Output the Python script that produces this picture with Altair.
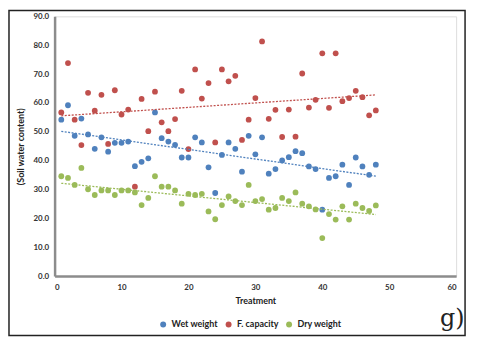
import altair as alt
import pandas as pd

treatment = list(range(1, 49))

wet_weight = [54.2, 59.2, 48.6, 54.6, 49.1, 44.1, 48.1, 43.1, 46.2, 46.2,
              46.6, 38.1, 39.6, 40.8, 56.7, 47.8, 46.6, 45.5, 41.1, 41.1,
              48.1, 46.3, 37.7, 28.8, 42.0, 46.3, 44.1, 36.2, 48.6, 42.2,
              48.1, 35.5, 37.1, 40.1, 41.2, 43.3, 42.6, 38.0, 37.1, 23.0,
              34.0, 34.6, 38.6, 31.6, 41.1, 38.0, 35.1, 38.6]

f_capacity = [56.7, 73.8, 54.2, 45.4, 63.5, 57.3, 62.8, 45.8, 64.4, 56.0,
              57.7, 31.0, 61.4, 50.2, 63.9, 53.3, 50.2, 54.4, 64.2, 44.0,
              71.6, 61.5, 66.9, 46.3, 71.6, 67.5, 69.4, 47.2, 54.2, 61.7,
              81.3, 54.5, 57.6, 48.2, 57.7, 48.3, 70.2, 58.4, 61.1, 77.2,
              58.3, 77.2, 60.6, 61.7, 64.2, 62.0, 55.7, 57.4]

dry_weight = [34.6, 34.0, 31.6, 37.5, 30.1, 28.1, 29.7, 29.7, 28.1, 29.7,
              29.7, 29.0, 24.6, 27.1, 34.6, 31.0, 31.0, 29.7, 25.1, 28.5,
              28.1, 28.5, 22.4, 19.7, 24.6, 27.6, 26.0, 24.6, 31.6, 26.0,
              26.7, 23.0, 23.6, 27.1, 26.0, 29.0, 25.1, 24.2, 23.1, 13.2,
              21.5, 19.6, 24.2, 19.6, 25.1, 23.6, 22.6, 24.5]

series_names = ["Wet weight", "F. capacity", "Dry weight"]
series_colors = ["#4f81bd", "#c0504d", "#9bbb59"]
x_ticks = [0, 10, 20, 30, 40, 50, 60]
y_ticks = [0, 10, 20, 30, 40, 50, 60, 70, 80, 90]

rows = []
for name, vals in zip(series_names, [wet_weight, f_capacity, dry_weight]):
    for t, v in zip(treatment, vals):
        rows.append({"Treatment": t, "value": v, "series": name})
df = pd.DataFrame(rows)

FONT = "Lato"

x_enc = alt.X("Treatment:Q",
              scale=alt.Scale(domain=[0, 60], nice=False),
              axis=alt.Axis(values=x_ticks, title="Treatment",
                            grid=False, ticks=False, labelPadding=7, labelOverlap=False,
                            domainColor="#8c8c8c", domainWidth=2.5,
                            labelFont=FONT, labelFontSize=8, labelFontWeight="bold",
                            labelColor="#333333", titleFont=FONT, titleFontSize=9,
                            titleFontWeight="bold", titleColor="#222222", titlePadding=6))
y_enc = alt.Y("value:Q",
              scale=alt.Scale(domain=[0, 90], nice=False),
              axis=alt.Axis(values=y_ticks, format=".1f", tickCount=10,
                            title="(Soil water content)", grid=False, ticks=False,
                            labelPadding=6, labelOverlap=False, labelBound=False,
                            domainColor="#8c8c8c", domainWidth=2.5,
                            labelFont=FONT, labelFontSize=8, labelFontWeight="bold",
                            labelColor="#333333", titleFont=FONT, titleFontSize=9,
                            titleFontWeight="bold", titleColor="#222222", titlePadding=8))
color_scale = alt.Scale(domain=series_names, range=series_colors)

points = alt.Chart(df).mark_circle(size=34, opacity=1).encode(
    x=x_enc, y=y_enc,
    color=alt.Color("series:N", scale=color_scale, sort=series_names,
                    legend=alt.Legend(title=None, orient="none", direction="horizontal",
                                      legendX=105, legendY=306, symbolType="circle",
                                      symbolSize=36, labelFont=FONT, labelFontSize=9,
                                      labelFontWeight="bold", labelColor="#222222",
                                      columnPadding=6, symbolStrokeWidth=0))
)

trend = alt.Chart(df).transform_regression(
    "Treatment", "value", groupby=["series"]
).mark_line(strokeDash=[2, 1.5], strokeWidth=1.3).encode(
    x=x_enc, y=y_enc,
    color=alt.Color("series:N", scale=color_scale, legend=None)
)

label_df = pd.DataFrame({"txt": ["g)"]})
glabel = alt.Chart(label_df).mark_text(font="DejaVu Serif", fontSize=24, align="center",
                                       baseline="middle", color="#222222").encode(
    x=alt.value(401), y=alt.value(305), text="txt:N")

frame = alt.Chart(label_df).mark_rect(filled=False, stroke="#222222", strokeWidth=1.5).encode(
    x=alt.value(-46), x2=alt.value(414), y=alt.value(-6), y2=alt.value(322))

chart = alt.layer(points, trend, glabel, frame).properties(
    width=405, height=262,
    autosize=alt.AutoSizeParams(type="none"),
    padding={"left": 47, "top": 7, "right": 16, "bottom": 62}
).configure_view(stroke="#111111", strokeWidth=1.5).configure(background="white")

chart.save("out.html", embed_options={"renderer": "svg", "actions": False})
